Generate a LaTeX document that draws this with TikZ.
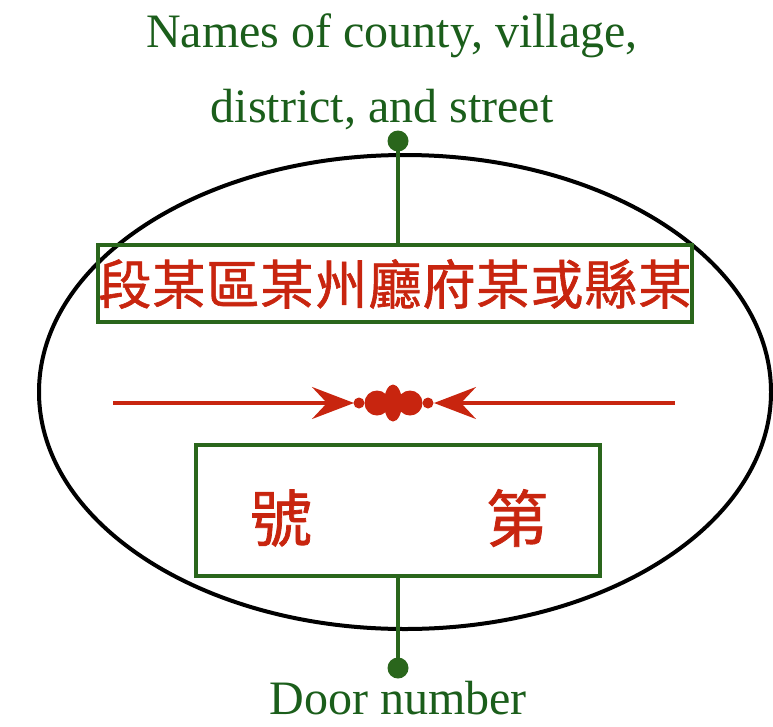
\documentclass[tikz,border=0pt]{standalone}
\usepackage{fontspec}
\setmainfont{Liberation Serif}
\newfontfamily\cjk[FakeBold=1.2]{Noto Sans CJK TC}
\usetikzlibrary{arrows.meta}
\definecolor{tgreen}{HTML}{1B5E1B}
\definecolor{lgreen}{HTML}{2A661C}
\definecolor{cred}{HTML}{C8250F}
\begin{document}
\begin{tikzpicture}[x=1pt,y=-1pt,
  lbl/.style={text=tgreen, font=\fontsize{48}{52}\selectfont, inner sep=0pt},
  gbox/.style={draw=lgreen, line width=4pt, inner sep=0pt},
  gline/.style={draw=lgreen, line width=3.5pt},
  gdot/.style={circle, fill=lgreen, minimum size=21pt, inner sep=0pt},
  cjkbig/.style={text=cred, font=\cjk\fontsize{53}{56}\selectfont, inner sep=0pt},
  cjkhuge/.style={text=cred, font=\cjk\fontsize{62}{66}\selectfont, inner sep=0pt},
  rline/.style={draw=cred, line width=3.5pt},
  orn/.style={fill=cred}]
\useasboundingbox (0,0) rectangle (773,726);
% ellipse
\draw[line width=4pt] (405,392) ellipse [x radius=366, y radius=237];
% titles
\node[lbl, anchor=base] (t1) at (392,47) {Names of county, village,};
\node[lbl, anchor=base] (t2) at (382,122) {district, and street};
\node[lbl, anchor=base] (t3) at (398,714) {Door number};
% top box
\node[gbox, minimum width=594pt, minimum height=77pt] (topbox) at (395,283.5) {};
\node[cjkbig] (toptext) at (395,284) {段\kern1pt 某\kern1pt 區\kern1pt 某\kern1pt 州\kern1pt 廳\kern1pt 府\kern1pt 某\kern1pt 或\kern1pt 縣\kern1pt 某};
% top connector
\node[gdot] (dtop) at (398,141) {};
\draw[gline] (dtop.center) -- (dtop.center |- topbox.north);
% bottom box
\node[gbox, minimum width=404pt, minimum height=131pt] (botbox) at (398,510.5) {};
\node[cjkhuge] (hao) at (281,518) {號};
\node[cjkhuge] (di) at (517,518) {第};
% bottom connector
\node[gdot] (dbot) at (398,668) {};
\draw[gline] (dbot.center |- botbox.south) -- (dbot.center);
% red line with arrows
\coordinate (rl) at (113,403);
\coordinate (rlt) at (354,403);
\coordinate (rr) at (675,403);
\coordinate (rrt) at (434,403);
\draw[rline, -{Stealth[length=42pt, width=32pt, inset=15pt]}] (rl) -- (rlt);
\draw[rline, -{Stealth[length=42pt, width=32pt, inset=15pt]}] (rr) -- (rrt);
% ornament
\fill[orn] (359,403) circle [radius=5.5];
\fill[orn] (377,403) circle [radius=12.5];
\fill[orn] (410,403) circle [radius=12.5];
\fill[orn] (428,403) circle [radius=5.5];
\fill[orn] (393,403) ellipse [x radius=9, y radius=18.5];
\end{tikzpicture}
\end{document}
